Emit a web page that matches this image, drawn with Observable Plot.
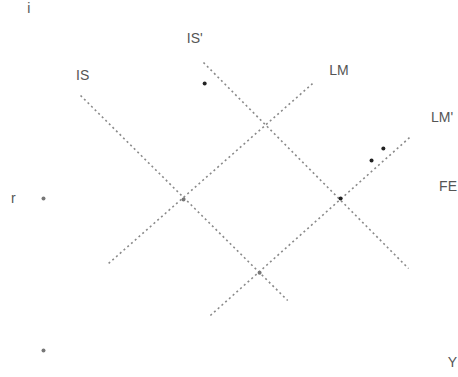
<!DOCTYPE html>
<html><head><meta charset="utf-8">
<script src="https://cdn.jsdelivr.net/npm/d3@7"></script>
<script src="https://cdn.jsdelivr.net/npm/@observablehq/plot@0.6"></script>
<style>body{margin:0;background:#fff}</style>
</head><body><div id="chart"></div>
<script>
// Curves (output Y on x, interest rate r on y), endpoints in chart units
const curveNames = ["IS", "IS'", "LM", "LM'"];
const curveX1 = [0.91, 3.93, 1.60, 4.10];
const curveY1 = [7.50, 8.47, 2.56, 1.03];
const curveX2 = [6.00, 8.97, 6.61, 9.02];
const curveY2 = [1.47, 2.41, 7.85, 6.29];

// Marked points (equilibria etc.)
const pointX = [3.44, 7.30, 3.96, 5.31, 8.06, 8.35, 0.0, 0.0];
const pointY = [4.44, 4.47, 7.85, 2.29, 5.59, 5.94, 4.47, 0.0];
const pointDark = [false, true, true, false, true, true, false, false];

// Text labels
const labelText = ["IS", "IS'", "LM", "LM'", "FE", "Y", "r", "i"];
const labelX = [0.80, 3.52, 7.02, 9.52, 9.72, 9.93, -0.80, -0.40];
const labelY = [8.10, 9.18, 8.24, 6.85, 4.82, -0.35, 4.47, 10.06];

const curves = curveNames.map((n, i) => ({name: n, x1: curveX1[i], y1: curveY1[i], x2: curveX2[i], y2: curveY2[i]}));
const points = pointX.map((x, i) => ({x, y: pointY[i], dark: pointDark[i]}));
const labels = labelText.map((t, i) => ({t, x: labelX[i], y: labelY[i]}));

const chart = Plot.plot({
  width: 458,
  height: 377,
  marginLeft: 43,
  marginRight: 8,
  marginTop: 10,
  marginBottom: 27,
  x: {domain: [0, 10], axis: null},
  y: {domain: [0, 10], axis: null},
  style: {fontFamily: "Liberation Sans, Arial, sans-serif", background: "#fff", overflow: "visible"},
  marks: [
    Plot.link(curves, {x1: "x1", y1: "y1", x2: "x2", y2: "y2", stroke: "#8a8a8a", strokeWidth: 1.6, strokeDasharray: "2,3"}),
    Plot.dot(points, {x: "x", y: "y", r: 2, fill: d => d.dark ? "#222" : "#777", stroke: "none"}),
    Plot.text(labels, {x: "x", y: "y", text: "t", textAnchor: "start", fontSize: 14, fill: "#555"})
  ]
});
document.getElementById("chart").appendChild(chart);
</script>
</body></html>
